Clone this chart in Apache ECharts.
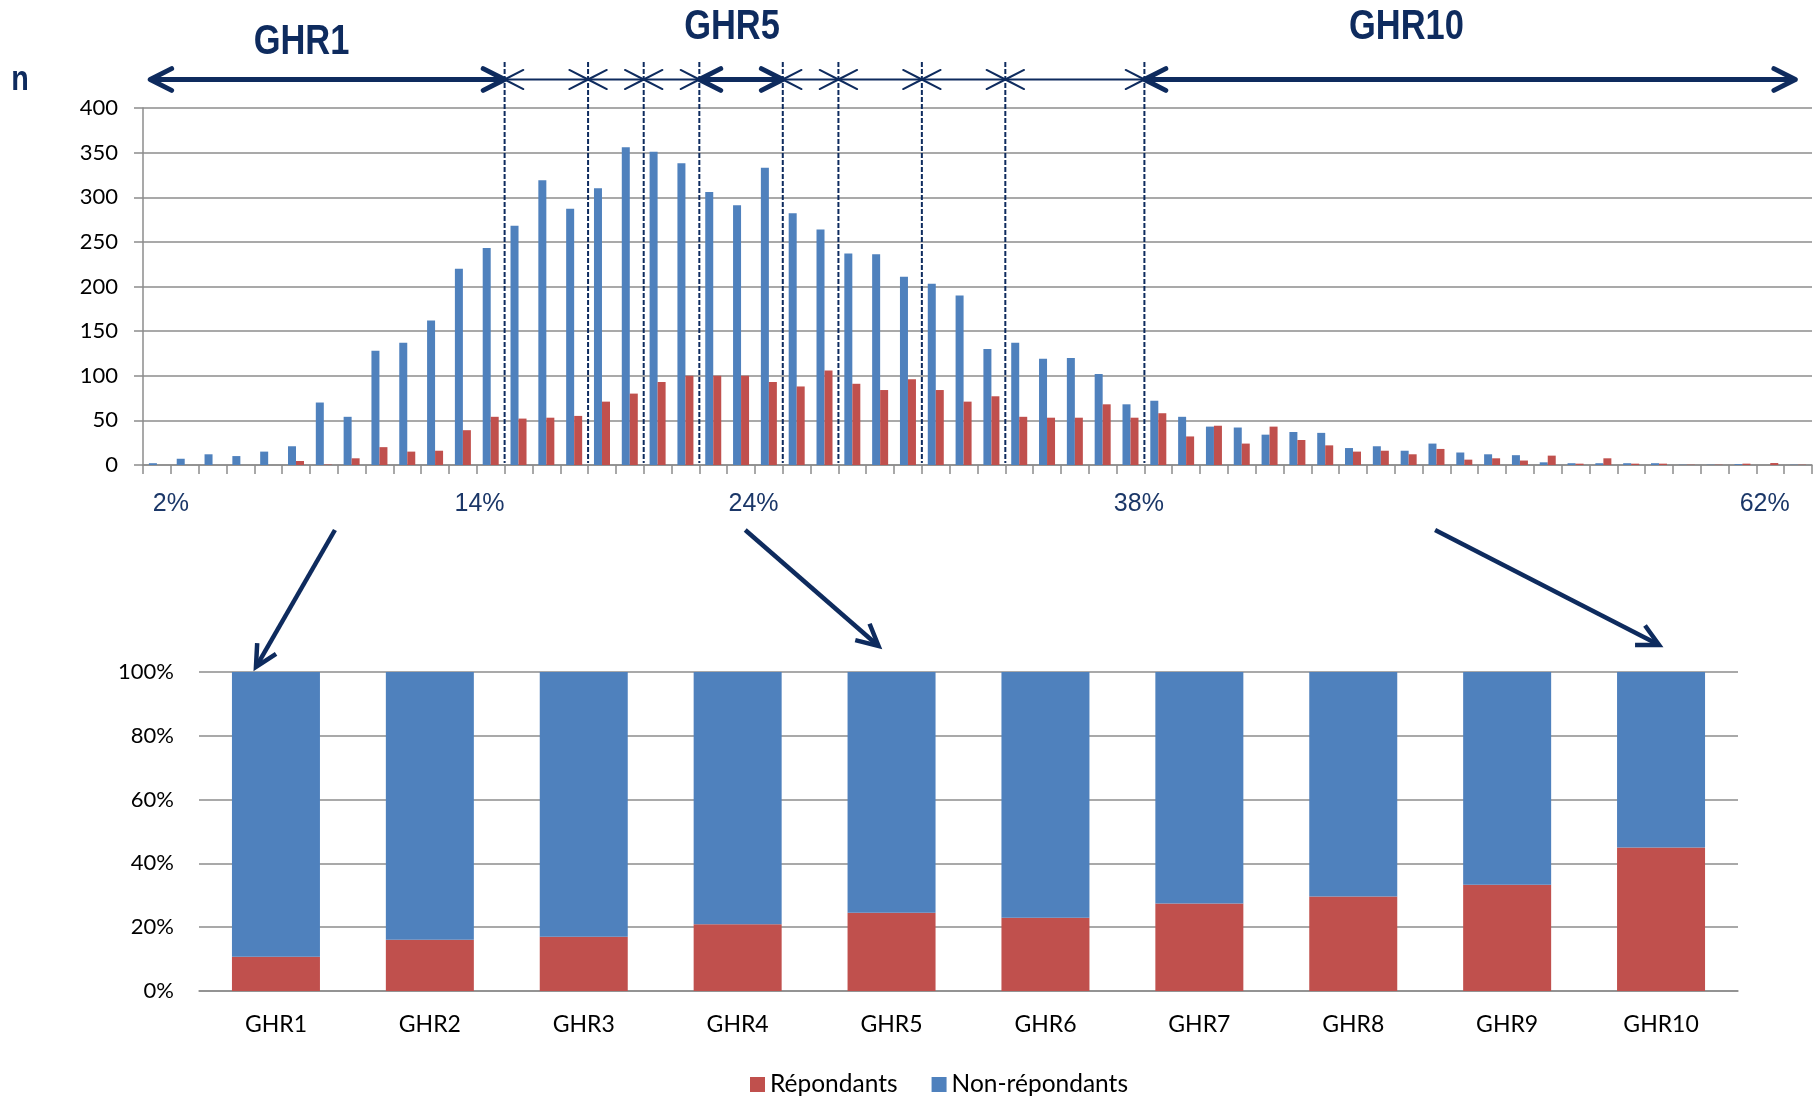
<!DOCTYPE html>
<html>
<head>
<meta charset="utf-8">
<title>GHR</title>
<script src="https://cdn.jsdelivr.net/npm/echarts@6/dist/echarts.min.js"></script>
<style>
html, body { margin: 0; padding: 0; background: #fff; }
#chart { width: 1819px; height: 1096px; }
</style>
</head>
<body>
<div id="chart"></div>
<script>
// ---- top histogram (n per bin) ----
const bins = ['2%','3%','4%','5%','6%','7%','8%','9%','10%','11%','12%','13%','14%','15%','16%',
  '17%','18%','19%','20%','21%','22%','23%','24%','25%','26%','27%','28%','29%','30%','31%',
  '32%','33%','34%','35%','36%','37%','38%','39%','40%','41%','42%','43%','44%','45%','46%',
  '47%','48%','49%','50%','51%','52%','53%','54%','55%','56%','57%','58%','59%','60%','61%'];
const nonRepondants = [2, 7, 12, 10, 15, 21, 70, 54, 128, 137,
  162, 220, 243, 268, 319, 287, 310, 356, 351, 338,
  306, 291, 333, 282, 264, 237, 236, 211, 203, 190,
  130, 137, 119, 120, 102, 68, 72, 54, 43, 42,
  34, 37, 36, 19, 21, 16, 24, 14, 12, 11,
  3, 2, 2, 2, 2, 0.3, 0.3, 1, 0, 0.3];
const repondants = [0, 0, 0, 0, 0, 4.5, 0.5, 7.5, 20, 15,
  16, 39, 54, 52, 53, 55, 71, 80, 93, 100,
  100, 100, 93, 88, 106, 91, 84, 96, 84, 71,
  77, 54, 53, 53, 68, 53, 58, 32, 44, 24,
  43, 28, 22, 15, 16, 12, 18, 6, 7.5, 5,
  10.5, 1.5, 7.5, 1.5, 1.5, 0.3, 0.3, 1.5, 2.2, 0.3];
const pctTickLabels = ['2%', '14%', '24%', '38%', '62%'];
const pctTickPos = [1.0, 12.1, 21.95, 35.8, 58.3];
// bin index where each GHR group (2..10) starts
const groupStarts = [13, 16, 18, 20, 23, 25, 28, 31, 36];
const boldGroups = [0, 4, 9];

// ---- bottom chart (% per GHR group) ----
const ghrNames = ['GHR1','GHR2','GHR3','GHR4','GHR5','GHR6','GHR7','GHR8','GHR9','GHR10'];
const repPct = [10.7, 16.1, 17.0, 20.9, 24.5, 23.0, 27.4, 29.6, 33.3, 45.0];
const nonRepPct = [89.3, 83.9, 83.0, 79.1, 75.5, 77.0, 72.6, 70.4, 66.7, 55.0];

const BLUE = '#4F81BD', RED = '#C0504D', NAVY = '#0E2B5E', GRIDC = '#8c8c8c';
const FONT = 'Lato, "Open Sans", sans-serif';
const ARROW_Y = 79.5, DASH_TOP = 62;
const ANG = 27 * Math.PI / 180;

// arms of an open arrow head; (bx, by) = unit vector from tip back along the shaft
function chevron(tx, ty, bx, by, len) {
  const c = Math.cos(ANG), s = Math.sin(ANG);
  return [
    [tx + len * (bx * c - by * s), ty + len * (bx * s + by * c)],
    [tx, ty],
    [tx + len * (bx * c + by * s), ty + len * (-bx * s + by * c)]
  ];
}

const edges = [0.26].concat(groupStarts, [59.4]);
const arrowData = [];
for (let i = 0; i < edges.length - 1; i++) {
  arrowData.push([edges[i], edges[i + 1], boldGroups.indexOf(i) >= 0 ? 1 : 0]);
}

const chart = echarts.init(document.getElementById('chart'));

function titleText(id, txt, x, y, size) {
  return {
    type: 'text', id: id, x: x, y: y, scaleX: 0.82, z: 10,
    style: {
      text: txt, font: 'bold ' + size + 'px "Liberation Sans", Arial, sans-serif',
      fill: NAVY, align: 'center', verticalAlign: 'middle',
      textAlign: 'center', textVerticalAlign: 'middle'
    }
  };
}

const option = {
  animation: false,
  backgroundColor: '#fff',
  grid: [
    { left: 143, top: 108, width: 1669, height: 357, containLabel: false, outerBoundsMode: 'none' },
    { left: 199, top: 672, width: 1539, height: 319, containLabel: false, outerBoundsMode: 'none' }
  ],
  legend: {
    data: ['Répondants', 'Non-répondants'],
    left: 745, top: 1067,
    itemWidth: 15, itemHeight: 15, itemGap: 34,
    icon: 'rect', selectedMode: false,
    textStyle: { fontSize: 24.5, fontFamily: FONT, color: '#000' }
  },
  xAxis: [
    {
      type: 'category', gridIndex: 0, data: bins,
      axisLine: { lineStyle: { color: GRIDC, width: 1.5 } },
      axisTick: { show: true, interval: 0, length: 9, lineStyle: { color: GRIDC, width: 1.5 } },
      axisLabel: { show: false },
      splitLine: { show: false }
    },
    {
      type: 'value', gridIndex: 0, min: 0, max: 60, position: 'bottom',
      axisLine: { show: false }, axisTick: { show: false }, splitLine: { show: false },
      axisLabel: {
        customValues: pctTickPos,
        formatter: function (v) { return pctTickLabels[pctTickPos.indexOf(v)]; },
        margin: 27, fontSize: 25, color: '#1B3768',
        fontFamily: '"Liberation Sans", Arial, sans-serif'
      }
    },
    {
      type: 'category', gridIndex: 1, data: ghrNames,
      axisLine: { lineStyle: { color: GRIDC, width: 1.5 } },
      axisTick: { show: false },
      axisLabel: { fontSize: 23, margin: 22, color: '#000', fontFamily: FONT }
    }
  ],
  yAxis: [
    {
      type: 'value', gridIndex: 0, min: 0, max: 400, interval: 50,
      axisLine: { show: true, lineStyle: { color: GRIDC, width: 1.5 } },
      axisTick: { show: true, length: 9, lineStyle: { color: GRIDC, width: 1.5 } },
      axisLabel: { fontSize: 22, margin: 25, color: '#000', fontFamily: FONT },
      splitLine: { lineStyle: { color: GRIDC, width: 1.5 } }
    },
    {
      type: 'value', gridIndex: 1, min: 0, max: 100, interval: 20,
      axisLine: { show: false }, axisTick: { show: false },
      axisLabel: { formatter: '{value}%', fontSize: 22, margin: 25, color: '#000', fontFamily: FONT },
      splitLine: { lineStyle: { color: GRIDC, width: 1.5 } }
    }
  ],
  series: [
    {
      name: 'Non-répondants', type: 'bar', xAxisIndex: 0, yAxisIndex: 0,
      data: nonRepondants, barWidth: 8, barGap: '0%',
      itemStyle: { color: BLUE }
    },
    {
      name: 'Répondants', type: 'bar', xAxisIndex: 0, yAxisIndex: 0,
      data: repondants, barWidth: 8, barGap: '0%',
      itemStyle: { color: RED }
    },
    {
      name: 'Répondants', type: 'bar', xAxisIndex: 2, yAxisIndex: 1, stack: 'pct',
      data: repPct, barWidth: 88, itemStyle: { color: RED }
    },
    {
      name: 'Non-répondants', type: 'bar', xAxisIndex: 2, yAxisIndex: 1, stack: 'pct',
      data: nonRepPct, barWidth: 88, itemStyle: { color: BLUE }
    },
    {
      // dashed separators between GHR groups
      type: 'custom', xAxisIndex: 1, yAxisIndex: 0, clip: false, z: 5,
      data: groupStarts.map(function (g) { return [g, 0]; }),
      renderItem: function (params, api) {
        const p = api.coord([api.value(0), 0]);
        return {
          type: 'line',
          shape: { x1: p[0], y1: DASH_TOP, x2: p[0], y2: p[1] - 2 },
          style: { stroke: NAVY, lineWidth: 2, lineDash: [5, 2] }
        };
      }
    },
    {
      // double arrows above each group
      type: 'custom', xAxisIndex: 1, yAxisIndex: 0, clip: false, z: 6,
      data: arrowData,
      renderItem: function (params, api) {
        const x0 = api.coord([api.value(0), 0])[0];
        const x1 = api.coord([api.value(1), 0])[0];
        const heavy = api.value(2) === 1;
        const st = {
          stroke: NAVY, fill: null, lineWidth: heavy ? 5 : 2,
          lineCap: 'round', lineJoin: 'round'
        };
        const len = heavy ? 24 : 21;
        return {
          type: 'group',
          children: [
            { type: 'line', shape: { x1: x0 + 2, y1: ARROW_Y, x2: x1 - 2, y2: ARROW_Y }, style: st },
            { type: 'polyline', shape: { points: chevron(x0, ARROW_Y, 1, 0, len) }, style: st },
            { type: 'polyline', shape: { points: chevron(x1, ARROW_Y, -1, 0, len) }, style: st }
          ]
        };
      }
    }
  ],
  graphic: [
    titleText('tn', 'n', 20, 80, 35),
    titleText('t1', 'GHR1', 301.5, 42.5, 42),
    titleText('t5', 'GHR5', 732, 27.5, 42),
    titleText('t10', 'GHR10', 1406.5, 27.5, 42)
  ]
};

chart.setOption(option);

// connector arrows from the histogram down to the matching bar
const linkFrom = [6.9, 21.65, 46.45];
const linkTo = ['GHR1', 'GHR5', 'GHR10'];
const linkTipDx = [-20, -13, -2];
const linkTipY = [667, 646, 645];
const LINK_Y = 530;
const links = [];
linkFrom.forEach(function (f, i) {
  const sx = chart.convertToPixel({ xAxisIndex: 1 }, f);
  const tx = chart.convertToPixel({ xAxisIndex: 2 }, linkTo[i]) + linkTipDx[i];
  const ty = linkTipY[i];
  const dx = sx - tx, dy = LINK_Y - ty, d = Math.sqrt(dx * dx + dy * dy);
  const st = { stroke: NAVY, fill: null, lineWidth: 4.5, lineCap: 'butt', lineJoin: 'miter' };
  links.push({ type: 'line', id: 'l' + i, z: 10, shape: { x1: sx, y1: LINK_Y, x2: tx + dx / d * 2, y2: ty + dy / d * 2 }, style: st });
  links.push({ type: 'polyline', id: 'h' + i, z: 10, shape: { points: chevron(tx, ty, dx / d, dy / d, 24) }, style: st });
});
chart.setOption({ graphic: links });
</script>
</body>
</html>
